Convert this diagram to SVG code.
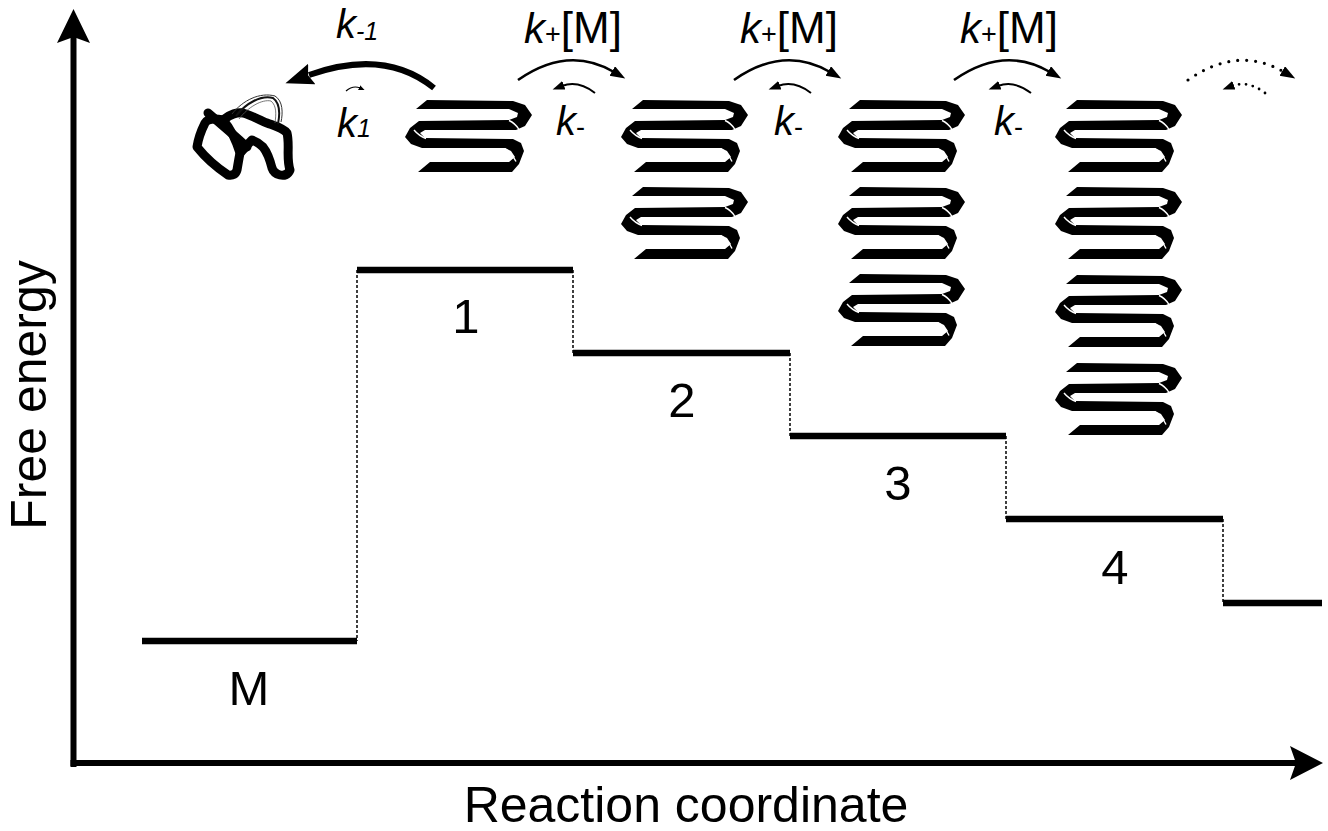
<svg xmlns="http://www.w3.org/2000/svg" width="1328" height="831" viewBox="0 0 1328 831">
  <style>
    .lbl { font-family: "Liberation Sans", Arial, sans-serif; fill: #000; }
    .it { font-style: italic; }
    .axis { stroke: #000; stroke-width: 6; fill: none; }
    .level { stroke: #000; stroke-width: 6.5; fill: none; }
    .drop { stroke: #000; stroke-width: 1.5; stroke-dasharray: 3 2; fill: none; }
    .fwd { stroke: #000; stroke-width: 2.6; fill: none; }
    .back { stroke: #000; stroke-width: 2; fill: none; }
    .dotfwd { stroke: #000; stroke-width: 3.2; stroke-linecap: round; stroke-dasharray: 0 9; fill: none; }
    .dotback { stroke: #000; stroke-width: 2.8; stroke-linecap: round; stroke-dasharray: 0 7; fill: none; }
    .slit { stroke: #fff; stroke-width: 1.4; fill: none; }
    .coil { stroke: #000; stroke-width: 9; fill: none; stroke-linejoin: round; stroke-linecap: round; }
  </style>
  <defs>
    <marker id="headBig" markerUnits="userSpaceOnUse" markerWidth="30" markerHeight="24" refX="3" refY="11" orient="auto">
      <path d="M0,0 L28,11 L0,22 L4,11 z" fill="#000"/>
    </marker>
    <marker id="headMid" markerUnits="userSpaceOnUse" markerWidth="16" markerHeight="12" refX="2" refY="5.5" orient="auto">
      <path d="M0,0 L15,5.5 L0,11 z" fill="#000"/>
    </marker>
    <marker id="headSmall" markerUnits="userSpaceOnUse" markerWidth="13" markerHeight="10" refX="2" refY="4.5" orient="auto">
      <path d="M0,0 L12,4.5 L0,9 z" fill="#000"/>
    </marker>
    <marker id="headTiny" markerUnits="userSpaceOnUse" markerWidth="7" markerHeight="6" refX="1" refY="2.5" orient="auto">
      <path d="M0,0 L6,2.5 L0,5 z" fill="#000"/>
    </marker>
    <!-- one four-strand serpentine beta-sheet ribbon; origin = left turn tip / top edge of first strand -->
    <g id="sheetUnit">
      <polygon fill="#000" points="22,0 108,1 120,5 127,15 120,26 111,30 20,30 15,33 20,38 108,39 116,43 119,51 114,64 107,72 13,72 25,62 104,62 110,57 106,51 100,48 17,48 6,44 0,37 5,28 14,21 104,20 112,17 113,13 104,9 11,9"/>
      <path class="slit" d="M104,20.5 Q110,23 114,29.5 M9,30 Q14,36 21,38.5 M100,48.5 Q107,53 111,61.5"/>
    </g>
  </defs>

  <!-- axes -->
  <g id="axes">
    <line class="axis" x1="73.5" y1="767" x2="73.5" y2="36"/>
    <polygon points="73.5,9 90,43 73.5,37 57,43" fill="#000"/>
    <line class="axis" x1="70.5" y1="763" x2="1300" y2="763"/>
    <polygon points="1323,763 1290,746 1296,763 1290,780" fill="#000"/>
    <text class="lbl" x="686" y="822" font-size="50" text-anchor="middle">Reaction coordinate</text>
    <text class="lbl" transform="translate(46,395) rotate(-90)" font-size="50" text-anchor="middle">Free energy</text>
  </g>

  <!-- free-energy levels -->
  <g id="level-M">
    <line class="level" x1="142" y1="641" x2="357" y2="641"/>
    <text class="lbl" x="249" y="705" font-size="49" text-anchor="middle">M</text>
  </g>
  <g id="level-1">
    <line class="level" x1="357" y1="270" x2="573" y2="270"/>
    <text class="lbl" x="466" y="333" font-size="49" text-anchor="middle">1</text>
  </g>
  <g id="level-2">
    <line class="level" x1="573" y1="353" x2="790" y2="353"/>
    <text class="lbl" x="682" y="417" font-size="49" text-anchor="middle">2</text>
  </g>
  <g id="level-3">
    <line class="level" x1="790" y1="436" x2="1006" y2="436"/>
    <text class="lbl" x="898" y="500" font-size="49" text-anchor="middle">3</text>
  </g>
  <g id="level-4">
    <line class="level" x1="1006" y1="519" x2="1223" y2="519"/>
    <text class="lbl" x="1115" y="584" font-size="49" text-anchor="middle">4</text>
  </g>
  <g id="level-5">
    <line class="level" x1="1223" y1="603" x2="1322" y2="603"/>
  </g>

  <!-- dotted drops between levels -->
  <g id="drops">
    <line class="drop" x1="357" y1="270" x2="357" y2="641"/>
    <line class="drop" x1="573" y1="270" x2="573" y2="353"/>
    <line class="drop" x1="790" y1="353" x2="790" y2="436"/>
    <line class="drop" x1="1006" y1="436" x2="1006" y2="519"/>
    <line class="drop" x1="1223" y1="519" x2="1223" y2="603"/>
  </g>

  <!-- unfolded monomer: a tangled coil with a loose thin tail -->
  <g id="monomer">
    <path class="coil" d="M208,113 C221,124 235,136 247,147"/>
    <path class="coil" d="M223,120 C214,118 207,119 205,123 C201,131 198,140 197,147 C205,157 216,167 228,175 C233,176 236,174 237,170 C238,164 239,158 240,153 C236,140 230,128 223,120 Z"/>
    <path class="coil" d="M223,120 C230,114 238,112 243,113 C251,115 259,120 267,123 C275,126 283,128 287,133 C290,145 286,158 290,170 C288,175 284,176 280,175 C276,174 273,171 272,168 C270,160 267,152 263,147 C259,143 255,141 252,140 C246,146 243,150 240,153"/>
    <path d="M236,116 C246,103 261,95 273,98 C280,103 280,114 278,124" stroke="#111" stroke-width="2" fill="none"/>
    <path d="M232,114 C243,100 260,92 275,96 C283,101 283,113 281,122" stroke="#333" stroke-width="1" fill="none"/>
    <path d="M239,119 C248,107 262,99 271,101 C277,106 276,115 275,123" stroke="#555" stroke-width="0.8" fill="none"/>
  </g>

  <!-- aggregates: nucleus and growing fibrils -->
  <g id="sheet-1">
    <use href="#sheetUnit" x="405" y="100"/>
  </g>
  <g id="sheet-2">
    <use href="#sheetUnit" x="621" y="100"/>
    <use href="#sheetUnit" x="621" y="187"/>
  </g>
  <g id="sheet-3">
    <use href="#sheetUnit" x="838" y="100"/>
    <use href="#sheetUnit" x="838" y="187"/>
    <use href="#sheetUnit" x="838" y="274"/>
  </g>
  <g id="sheet-4">
    <use href="#sheetUnit" x="1055" y="100"/>
    <use href="#sheetUnit" x="1055" y="187"/>
    <use href="#sheetUnit" x="1055" y="275"/>
    <use href="#sheetUnit" x="1055" y="363"/>
  </g>

  <!-- rate arrows -->
  <g id="connectors">
    <path d="M434,88 Q385,48 309,75" stroke="#000" stroke-width="6" fill="none" marker-end="url(#headBig)"/>
    <path d="M346,91 Q353,85 360,88" stroke="#000" stroke-width="1.2" fill="none" marker-end="url(#headTiny)"/>
    <g id="step-1">
      <path class="fwd" d="M518,80 Q568,45 614,72" marker-end="url(#headMid)"/>
      <path class="back" d="M595,93 Q578,80 562,86" marker-end="url(#headSmall)"/>
    </g>
    <g id="step-2" transform="translate(216,0)">
      <path class="fwd" d="M518,80 Q568,45 614,72" marker-end="url(#headMid)"/>
      <path class="back" d="M595,93 Q578,80 562,86" marker-end="url(#headSmall)"/>
    </g>
    <g id="step-3" transform="translate(436,0)">
      <path class="fwd" d="M518,80 Q568,45 614,72" marker-end="url(#headMid)"/>
      <path class="back" d="M595,93 Q578,80 562,86" marker-end="url(#headSmall)"/>
    </g>
    <g id="step-more" transform="translate(670,0)">
      <path class="dotfwd" d="M518,80 Q568,45 614,72" marker-end="url(#headMid)"/>
      <path class="dotback" d="M595,93 Q578,80 562,86" marker-end="url(#headSmall)"/>
    </g>
  </g>

  <!-- rate constants -->
  <g id="rate-labels">
    <text class="lbl" x="336" y="38" font-size="40"><tspan class="it">k</tspan><tspan class="it" font-size="25" dy="2">-1</tspan></text>
    <text class="lbl" x="337" y="137" font-size="40"><tspan class="it">k</tspan><tspan class="it" font-size="25">1</tspan></text>
    <text class="lbl" x="524" y="43" font-size="42"><tspan class="it">k</tspan><tspan font-size="27">+</tspan><tspan font-size="44">[M]</tspan></text>
    <text class="lbl" x="740" y="43" font-size="42"><tspan class="it">k</tspan><tspan font-size="27">+</tspan><tspan font-size="44">[M]</tspan></text>
    <text class="lbl" x="960" y="43" font-size="42"><tspan class="it">k</tspan><tspan font-size="27">+</tspan><tspan font-size="44">[M]</tspan></text>
    <text class="lbl" x="556" y="135" font-size="40"><tspan class="it">k</tspan><tspan font-size="27" dy="1">-</tspan></text>
    <text class="lbl" x="774" y="135" font-size="40"><tspan class="it">k</tspan><tspan font-size="27" dy="1">-</tspan></text>
    <text class="lbl" x="994" y="135" font-size="40"><tspan class="it">k</tspan><tspan font-size="27" dy="1">-</tspan></text>
  </g>
</svg>
